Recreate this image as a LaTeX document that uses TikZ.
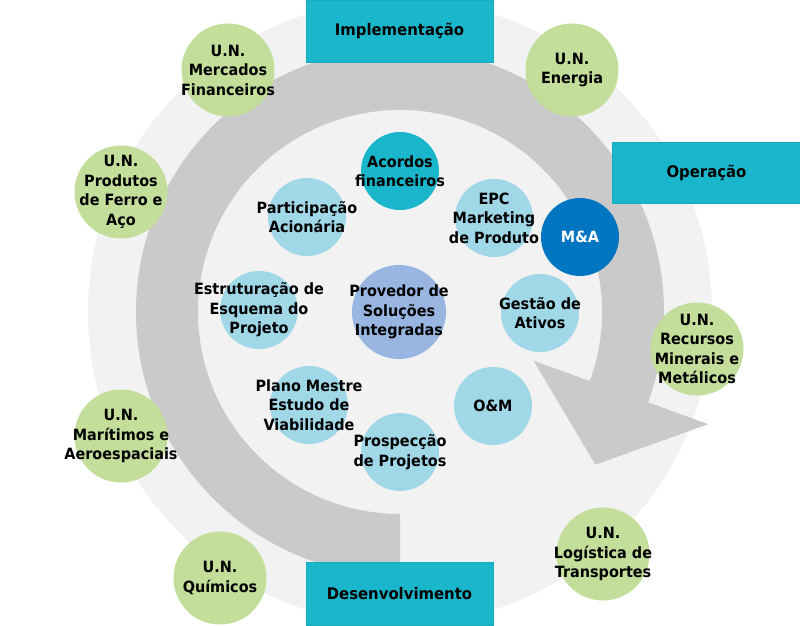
\documentclass[tikz,border=0pt]{standalone}
\usepackage{fontspec}
\setmainfont{DejaVu Sans}[FakeStretch=0.93]
\definecolor{bgray}{HTML}{F2F2F2}
\definecolor{rgray}{HTML}{CACACA}
\definecolor{teal}{HTML}{1AB7CC}
\definecolor{tealdark}{HTML}{17A9BC}
\definecolor{ungreen}{HTML}{C3DE9B}
\definecolor{pale}{HTML}{A1D8E8}
\definecolor{mablue}{HTML}{0075C2}
\definecolor{provblue}{HTML}{98B6E1}

\begin{document}
\begin{tikzpicture}[x=1pt,y=1pt,
    txt/.style={align=center,font=\fontsize{15.5}{19.5}\selectfont\bfseries},
    un/.style={circle,fill=ungreen,minimum size=93pt,inner sep=0pt},
    sol/.style={circle,fill=pale,minimum size=78pt,inner sep=0pt},
    phase/.style={rectangle,fill=teal,draw=tealdark,line width=0.6pt,minimum width=187pt,minimum height=62pt,
        font=\fontsize{16}{20}\selectfont\bfseries}]
\useasboundingbox (0,0) rectangle (800,625);
\fill[bgray] (400,313) circle[radius=312];
\begin{scope}[shift={(400,313)}]
\fill[rgray] (270:264) arc[start angle=270,end angle=-20,radius=264] -- (-20:328) -- (-38:248)
    -- (-20:142) -- (-20:202) arc[start angle=-20,end angle=270,radius=202] -- cycle;
\end{scope}
\node[phase] (impl) at (399.5,594) {Implementação};
\node[phase,minimum width=189pt,minimum height=61pt] (oper) at (706.5,452.5) {Operação};
\node[phase,minimum height=63pt] (desen) at (399.5,31.5) {Desenvolvimento};

\node[un,label={[txt]center:U.N.\\Mercados\\Financeiros}] (merc) at (228,555) {};
\node[un,label={[txt]center:U.N.\\Produtos\\de Ferro e\\Aço}] (ferro) at (121,433) {};
\node[un,label={[txt]center:U.N.\\Energia}] (energia) at (572,555) {};
\node[un,label={[txt]center:U.N.\\Recursos\\Minerais e\\Metálicos}] (recursos) at (697,276) {};
\node[un,label={[txt]center:U.N.\\Marítimos e\\Aeroespaciais}] (marit) at (121,189) {};
\node[un,label={[txt]center:U.N.\\Químicos}] (quim) at (220,47) {};
\node[un,label={[txt]center:U.N.\\Logística de\\Transportes}] (logist) at (603,71) {};

\node[sol,fill=teal,label={[txt]center:Acordos\\financeiros}] (acordos) at (400,454) {};
\node[sol,label={[txt]center:Participação\\Acionária}] (particip) at (307,408) {};
\node[sol,label={[txt]center:EPC\\Marketing\\de Produto}] (epc) at (494,407) {};
\node[sol,fill=mablue,label={[txt,text=white]center:M\&A}] (ma) at (580,388) {};
\node[sol,label={[txt]center:Estruturação de\\Esquema do\\Projeto}] (estrut) at (259,315) {};
\node[sol,fill=provblue,minimum size=94pt,label={[txt]center:Provedor de\\Soluções\\Integradas}] (provedor) at (399,313) {};
\node[sol,label={[txt]center:Gestão de\\Ativos}] (gestao) at (540,312) {};
\node[sol,label={[txt]center:Plano Mestre\\Estudo de\\Viabilidade}] (plano) at (309,220) {};
\node[sol,label={[txt]center:Prospecção\\de Projetos}] (prosp) at (400,173) {};
\node[sol,label={[txt]center:O\&M}] (om) at (493,219) {};
\end{tikzpicture}
\end{document}
